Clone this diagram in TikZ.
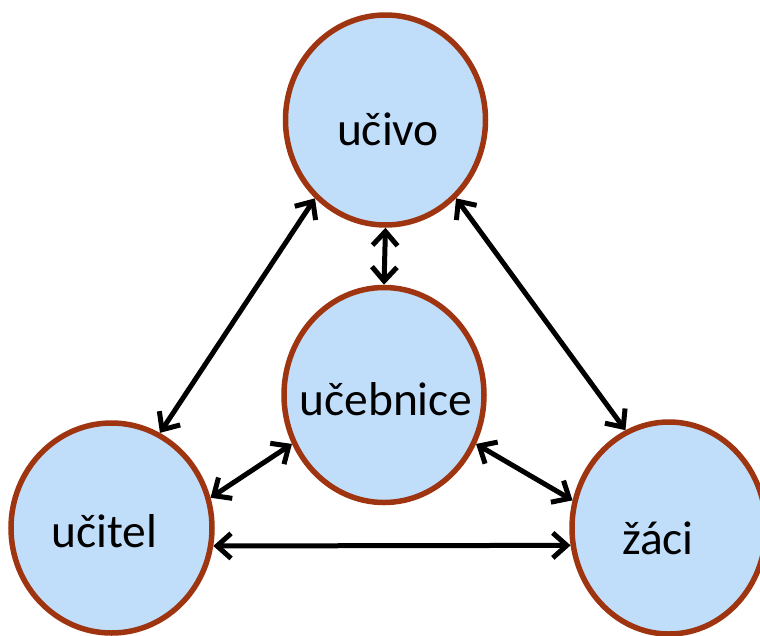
\documentclass[tikz,border=0pt]{standalone}
\usepackage{fontspec}
\setmainfont{Carlito}
\usetikzlibrary{shapes.geometric,arrows.meta}
\definecolor{bubblefill}{RGB}{192,222,250}
\definecolor{bubbleedge}{RGB}{158,52,16}
\begin{document}
\begin{tikzpicture}[x=1pt,y=-1pt,
  bubble/.style={ellipse, draw=bubbleedge, fill=bubblefill, line width=5.5pt,
    minimum width=200pt, minimum height=210pt, inner sep=0pt},
  word/.style={anchor=base, inner sep=0pt, font=\fontsize{47.5}{56}\selectfont},
  link/.style={line width=5pt,
    {Straight Barb[length=14pt,width=25pt]}-{Straight Barb[length=14pt,width=25pt]}}]
\useasboundingbox (0,0) rectangle (760,635);

% the four circles
\node[bubble] (ucivo) at (385.5,120) {};
\node[bubble, minimum height=215pt] (ucebnice) at (384,395) {};
\node[bubble, minimum width=201pt] (ucitel) at (111.5,528) {};
\node[bubble, minimum width=194pt, minimum height=212pt] (zaci) at (669,528) {};

% their labels
\node[word] (tucivo) at (388,145) {učivo};
\node[word] (tucebnice) at (386,415) {učebnice};
\node[word] (tucitel) at (104.5,547) {učitel};
\node[word] (tzaci) at (658,554) {žáci};

% two-way links
\draw[link] (ucivo.228) -- (ucitel.63);
\draw[link] (ucivo.south) -- (ucebnice.north);
\draw[link] (ucivo.312) -- (zaci.114);
\draw[link] (ucebnice.208) -- (ucitel.17);
\draw[link] (ucebnice.332) -- (zaci.164);
\draw[link] (ucitel.350) -- (zaci.190);
\end{tikzpicture}
\end{document}
